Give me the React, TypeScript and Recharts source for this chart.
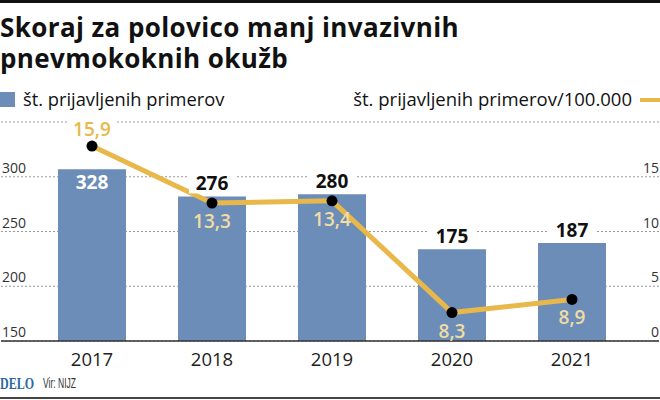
import React from 'react';
import { ComposedChart, Bar, Line, XAxis, YAxis, CartesianGrid, LabelList } from 'recharts';

const years = ['2017', '2018', '2019', '2020', '2021'];
const cases = [328, 276, 280, 175, 187];
const rates = [15.9, 13.3, 13.4, 8.3, 8.9];
const leftTicks = [150, 200, 250, 300, 350];
const rightTicks = [0, 5, 10, 15, 20];

const data = years.map((year, i) => ({ year, cases: cases[i], rate: rates[i] }));

const FONT = '"Open Sans", "Noto Sans", sans-serif';
const BAR = '#6b8db8';
const LINE = '#e8b84a';
const BEIGE = '#f1dda3';

const fmt = (v: number) => v.toFixed(1).replace('.', ',');

const LeftTick = (props: any) => {
  const { y, payload } = props;
  if (payload.value === 350) return <g />;
  return (
    <text x={2} y={y - 4} textAnchor="start" fontSize={14} fill="#333" fontFamily={FONT}>
      {payload.value}
    </text>
  );
};

const RightTick = (props: any) => {
  const { y, payload } = props;
  if (payload.value === 20) return <g />;
  return (
    <text x={659} y={y - 4} textAnchor="end" fontSize={14} fill="#333" fontFamily={FONT}>
      {payload.value}
    </text>
  );
};

const BarLabel = (props: any) => {
  const { x, y, width, value, index } = props;
  const cx = x + width / 2;
  if (index === 0) {
    return (
      <text x={cx} y={y + 13} textAnchor="middle" dominantBaseline="central" fontSize={19} fontWeight={700} fill="#fff" fontFamily={FONT}>
        {value}
      </text>
    );
  }
  return (
    <g>
      <rect x={cx - 23} y={y - 24} width={46} height={21} fill="#fff" />
      <text x={cx} y={y - 13} textAnchor="middle" dominantBaseline="central" fontSize={19} fontWeight={700} fill="#111" fontFamily={FONT}>
        {value}
      </text>
    </g>
  );
};

const LineLabel = (props: any) => {
  const { x, y, value, index } = props;
  if (index === 0) {
    return (
      <g>
        <rect x={x - 24} y={y - 28} width={48} height={21} fill="#fff" />
        <text x={x} y={y - 17} textAnchor="middle" dominantBaseline="central" fontSize={19} fontWeight={600} fill={LINE} fontFamily={FONT}>
          {fmt(value)}
        </text>
      </g>
    );
  }
  return (
    <text x={x} y={y + 18} textAnchor="middle" dominantBaseline="central" fontSize={19} fontWeight={600} fill={BEIGE} fontFamily={FONT}>
      {fmt(value)}
    </text>
  );
};

export default function App() {
  return (
    <div style={{ position: 'absolute', left: 0, top: 0, width: 660, height: 400, background: '#fff', fontFamily: FONT }}>
      <ComposedChart width={660} height={400} data={data} margin={{ top: 122, right: 0, bottom: 29, left: 0 }}>
        <CartesianGrid yAxisId="left" vertical={false} stroke="#999" strokeDasharray="2 2" />
        <XAxis
          dataKey="year"
          padding={{ left: 31, right: 27 }}
          tickLine={false}
          axisLine={{ stroke: '#333', strokeWidth: 1.5 }}
          height={30}
          tick={{ fontSize: 18.5, fill: '#222', fontFamily: FONT }}
          tickMargin={6}
        />
        <YAxis yAxisId="left" domain={[150, 350]} ticks={leftTicks} allowDataOverflow width={1} axisLine={false} tickLine={false} tick={<LeftTick />} interval={0} />
        <YAxis yAxisId="right" orientation="right" domain={[0, 20]} ticks={rightTicks} allowDataOverflow width={1} axisLine={false} tickLine={false} tick={<RightTick />} interval={0} />
        <YAxis yAxisId="bar" hide domain={[0, 418]} allowDataOverflow />
        <YAxis yAxisId="line" hide domain={[7, 17]} allowDataOverflow />
        <Bar yAxisId="bar" dataKey="cases" fill={BAR} barSize={68} isAnimationActive={false}>
          <LabelList dataKey="cases" content={<BarLabel />} />
        </Bar>
        <Line
          yAxisId="line"
          dataKey="rate"
          stroke={LINE}
          strokeWidth={5}
          dot={{ r: 5.5, fill: '#000', stroke: '#000', strokeWidth: 0 }}
          isAnimationActive={false}
        >
          <LabelList dataKey="rate" content={<LineLabel />} />
        </Line>
      </ComposedChart>
      <svg width={660} height={400} style={{ position: 'absolute', left: 0, top: 0, pointerEvents: 'none' }}>
        <rect x={0} y={0} width={660} height={3} fill="#111" />
        <text fontSize={26} fontWeight={700} letterSpacing={0.4} fill="#111" fontFamily={FONT}>
          <tspan x={0} y={37}>Skoraj za polovico manj invazivnih</tspan>
          <tspan x={0} y={68}>pnevmokoknih okužb</tspan>
        </text>
        <rect x={0} y={92} width={15} height={15} fill={BAR} />
        <text x={23} y={106} fontSize={18.3} fill="#111" fontFamily={FONT}>št. prijavljenih primerov</text>
        <text x={632} y={106} textAnchor="end" fontSize={18.5} fill="#111" fontFamily={FONT}>št. prijavljenih primerov/100.000</text>
        <rect x={640} y={98} width={20} height={4} fill={LINE} />
        <text x={0} y={389} fontSize={17} fontWeight={700} fill="#2b6aa0" fontFamily='"Liberation Serif", serif' textLength={34} lengthAdjust="spacingAndGlyphs">DELO</text>
        <text x={43} y={388} fontSize={14} fill="#333" fontFamily='"Liberation Sans", sans-serif' textLength={33} lengthAdjust="spacingAndGlyphs">Vir: NIJZ</text>
        <rect x={0} y={397} width={660} height={2} fill="#444" />
      </svg>
    </div>
  );
}
